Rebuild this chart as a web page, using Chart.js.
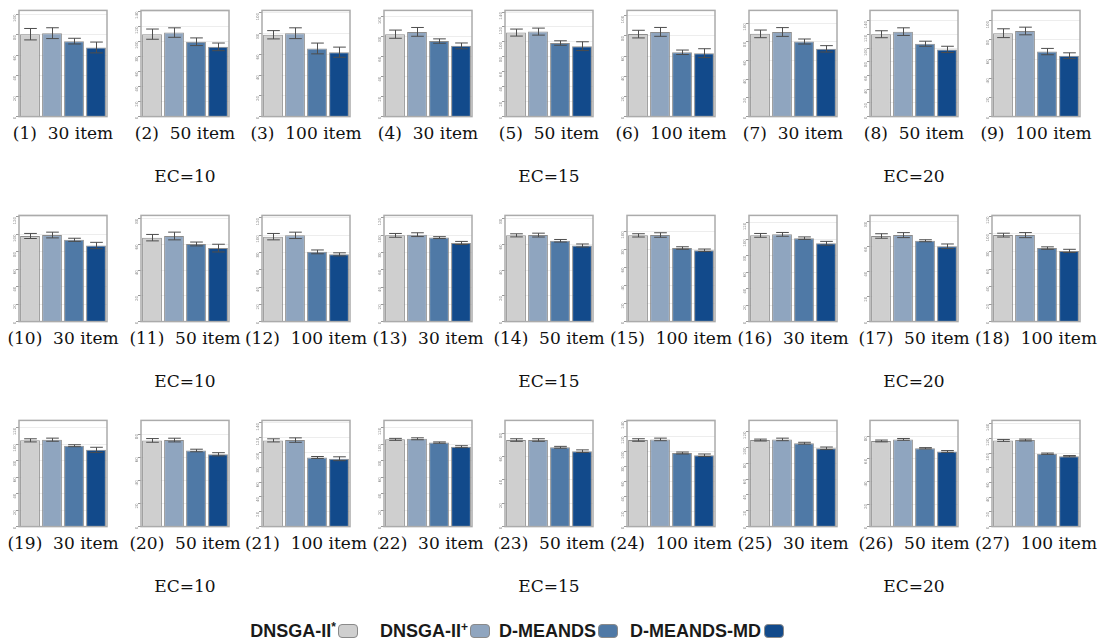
<!DOCTYPE html>
<html><head><meta charset="utf-8">
<script src="https://cdn.jsdelivr.net/npm/chart.js@4.4.1/dist/chart.umd.min.js"></script>
<style>
body{margin:0;background:#fff;width:1103px;height:644px;position:relative;overflow:hidden}
.cv{position:absolute}
.cap{position:absolute;font-family:"DejaVu Serif",serif;font-size:17px;line-height:20px;color:#111;white-space:pre;transform:translateX(-50%)}
.ec{position:absolute;font-family:"DejaVu Serif",serif;font-size:17px;line-height:20px;color:#111;white-space:pre;transform:translateX(-50%)}
.lgt{position:absolute;font-family:"Liberation Sans",Arial,sans-serif;font-weight:bold;font-size:18px;line-height:20px;color:#1a1a1a;white-space:pre;text-align:right}
.lgt sup{font-size:12px;line-height:0;vertical-align:6px}
.lgb{position:absolute;width:20px;height:14px;border:1.5px solid #8a8a8a;border-radius:4px;box-sizing:border-box}
</style></head><body>
<script>
// ---- data ----
const algorithms = ['DNSGA-II*', 'DNSGA-II+', 'D-MEANDS', 'D-MEANDS-MD'];
const itemCounts = ['30 item','50 item','100 item'];
const ecGroups = ['EC=10','EC=15','EC=20'];
const dnsgaStar = [80.7,109.7,78.9,82.5,112.5,81.8,88.5,120.6,87.1,
                   98.2,65.2,98.3,99.8,67.0,95.4,104.6,68.6,98.7,
                   104.6,74.5,116.5,105.8,74.0,115.2,109.2,75.8,117.2];
const dnsgaPlus = [81.7,111.8,80.4,84.8,113.8,84.0,90.5,124.4,89.4,
                   99.3,66.5,99.8,100.6,67.2,95.8,105.8,69.3,98.7,
                   105.4,74.8,116.9,106.5,74.0,116.0,110.0,77.2,117.7];
const dmeands   = [73.9,99.6,65.7,75.6,98.5,63.8,80.3,106.7,67.9,
                   93.8,60.3,80.7,97.2,62.8,81.4,101.2,64.8,83.9,
                   98.1,65.8,93.4,101.9,67.8,97.9,105.2,69.3,99.1];
const dmeandsMD = [67.7,92.8,62.1,70.8,94.3,62.9,72.5,98.4,63.6,
                   87.3,57.1,77.8,91.0,59.1,78.9,95.0,60.4,80.7,
                   93.1,62.5,91.7,96.9,64.5,94.9,98.8,66.5,95.7];
const errStar   = [5.6,6.8,4.0,4.1,4.7,3.8,4.1,5.1,4.6, 2.9,2.5,3.7,2.2,1.2,1.8,2.3,1.8,2.2, 1.9,1.6,2.1,1.2,1.1,1.7,1.2,0.8,1.3];
const errPlus   = [5.3,6.3,5.2,4.4,4.7,4.4,4.7,5.6,4.0, 3.3,3.0,3.7,2.2,1.5,2.5,2.3,2.0,2.9, 1.9,1.6,3.0,1.2,1.1,1.7,1.6,0.8,1.3];
const errMe     = [2.8,5.1,5.2,2.2,3.0,2.2,2.7,3.7,3.3, 1.8,1.5,2.2,1.1,1.0,1.4,1.5,0.8,1.4, 1.2,1.1,1.3,0.8,0.8,1.3,1.2,0.6,0.9];
const errMd     = [5.3,5.1,4.9,2.9,5.9,4.4,3.4,4.6,3.0, 3.6,3.0,1.8,1.8,1.2,1.4,2.3,1.8,1.8, 3.1,1.4,2.6,1.2,1.1,1.7,1.6,0.8,0.9];
const axisMax   = [104.0,141.3,102.4,106.3,142.2,105.3,113.6,155.5,110.9,
                   121.8,82.5,122.9,122.9,82.5,117.5,128.8,85.1,121.2,
                   128.8,91.8,143.5,128.8,90.8,141.3,134.0,94.0,144.4];
const tickStep = 20;

// ---- styles ----
const barColors = ['#cfcfcf', '#8fa5bf', '#4f79a6', '#124a8b'];

const errorBars = {
  id: 'errorBars',
  afterDatasetsDraw(chart) {
    const ctx = chart.ctx, ds = chart.data.datasets[0], ys = chart.scales.y;
    const meta = chart.getDatasetMeta(0);
    ctx.save();
    ctx.strokeStyle = '#4d4d4d'; ctx.lineWidth = 1;
    meta.data.forEach((bar, i) => {
      const v = ds.data[i], e = ds.errors[i];
      const x = Math.round(bar.x) + 0.5;
      const yT = ys.getPixelForValue(v + e), yB = ys.getPixelForValue(v - e);
      const w = bar.width * 0.32;
      ctx.beginPath();
      ctx.moveTo(x, yT); ctx.lineTo(x, yB);
      ctx.moveTo(x - w, yT); ctx.lineTo(x + w, yT);
      ctx.moveTo(x - w, yB); ctx.lineTo(x + w, yB);
      ctx.stroke();
    });
    ctx.restore();
  }
};
const boxFrame = {
  id: 'boxFrame',
  afterDraw(chart) {
    const a = chart.chartArea, ctx = chart.ctx;
    ctx.save();
    ctx.strokeStyle = '#ababab'; ctx.lineWidth = 1.5;
    ctx.strokeRect(a.left, a.top, a.right - a.left, a.bottom - a.top);
    ctx.restore();
  }
};

const colCenters = [63, 185, 306, 428, 549, 671, 793, 914, 1036];
const rowBoxTop = [8, 213, 418];
const boxW = 88, boxH = 111, axisW = 12;

for (let p = 0; p < 27; p++) {
  const r = Math.floor(p / 9), c = p % 9;
  const cv = document.createElement('canvas');
  cv.className = 'cv';
  cv.width = axisW + boxW + 2; cv.height = boxH + 2;
  cv.style.left = (colCenters[c] - boxW / 2 - axisW) + 'px';
  cv.style.top = (rowBoxTop[r] - 1) + 'px';
  cv.style.width = cv.width + 'px'; cv.style.height = cv.height + 'px';
  document.body.appendChild(cv);

  new Chart(cv, {
    type: 'bar',
    data: {
      labels: algorithms,
      datasets: [{
        data: [dnsgaStar[p], dnsgaPlus[p], dmeands[p], dmeandsMD[p]],
        errors: [errStar[p], errPlus[p], errMe[p], errMd[p]],
        backgroundColor: barColors,
        borderColor: '#8c8c8c',
        borderWidth: 1,
        categoryPercentage: 1,
        barPercentage: 0.9
      }]
    },
    options: {
      responsive: false, animation: false, devicePixelRatio: 1,
      layout: { padding: { top: 1, right: 2, bottom: 1, left: 0 } },
      plugins: { legend: { display: false }, tooltip: { enabled: false } },
      scales: {
        x: { display: false },
        y: {
          min: 0, max: axisMax[p], z: 1,
          border: { display: false },
          grid: { color: 'rgba(215,215,215,0.45)', tickColor: '#9a9a9a', tickLength: 3, lineWidth: 1 },
          ticks: { stepSize: tickStep, includeBounds: false, minRotation: 90, maxRotation: 90, padding: 1,
                   font: { size: 4, family: 'DejaVu Sans' }, color: '#8a8a8a' },
          afterFit(s) { s.width = axisW; }
        }
      }
    },
    plugins: [errorBars, boxFrame]
  });

  const cap = document.createElement('div');
  cap.className = 'cap';
  cap.textContent = '(' + (p + 1) + ')  ' + itemCounts[c % 3];
  cap.style.left = colCenters[c] + 'px';
  cap.style.top = (rowBoxTop[r] + 115) + 'px';
  document.body.appendChild(cap);
}
for (let r = 0; r < 3; r++) {
  for (let g = 0; g < 3; g++) {
    const d = document.createElement('div');
    d.className = 'ec';
    d.textContent = ecGroups[g];
    d.style.left = colCenters[g * 3 + 1] + 'px';
    d.style.top = (rowBoxTop[r] + 158) + 'px';
    document.body.appendChild(d);
  }
}
// legend
const legendTextRight = [336, 468, 596, 761];
const legendBoxLeft = [338, 470, 598, 764];
algorithms.forEach((name, i) => {
  const t = document.createElement('div');
  t.className = 'lgt';
  const m = name.match(/^(.*?)([*+])$/);
  if (m) { t.textContent = m[1]; const s = document.createElement('sup'); s.textContent = m[2]; t.appendChild(s); }
  else t.textContent = name;
  t.style.right = (1103 - legendTextRight[i]) + 'px';
  t.style.top = '621px';
  document.body.appendChild(t);
  const b = document.createElement('div');
  b.className = 'lgb';
  b.style.left = legendBoxLeft[i] + 'px';
  b.style.top = '624px';
  b.style.background = barColors[i];
  document.body.appendChild(b);
});
</script>
</body></html>
